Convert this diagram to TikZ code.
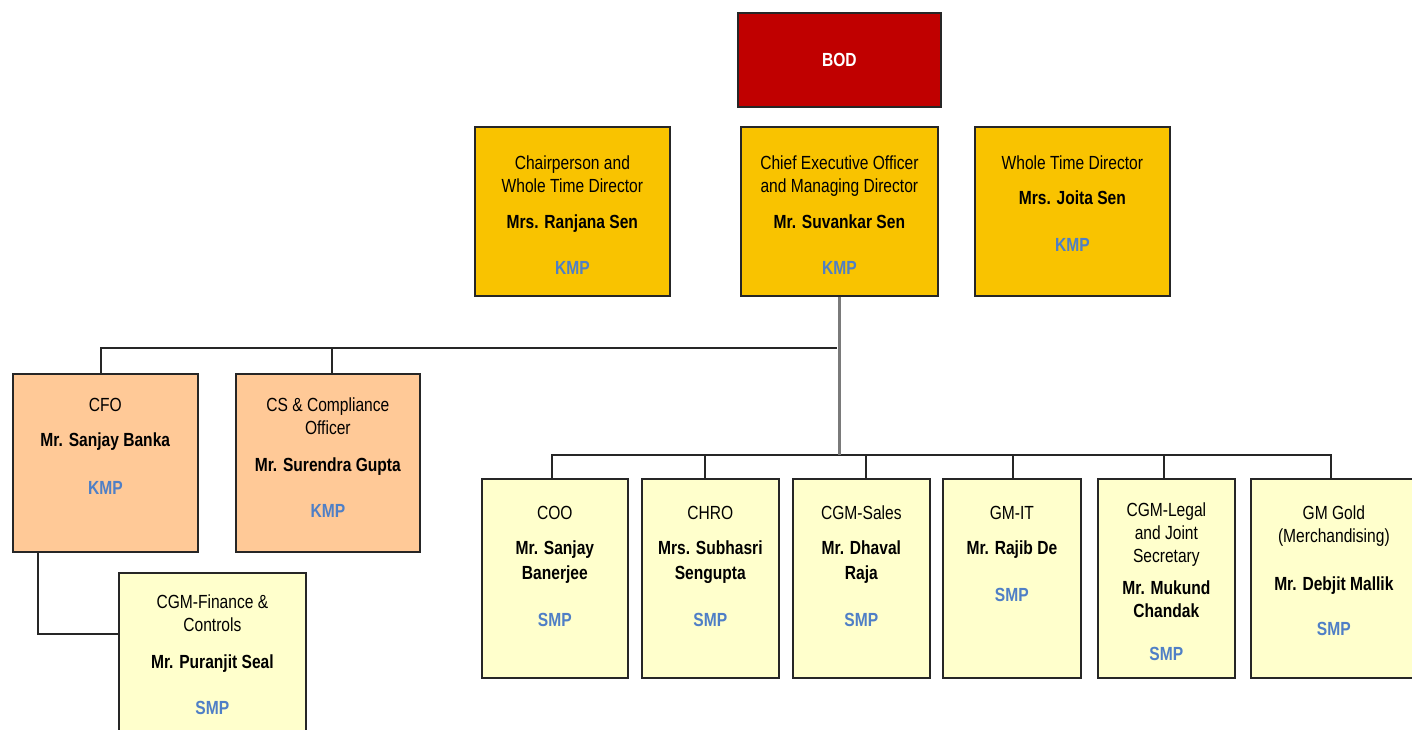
\documentclass[tikz,border=0pt]{standalone}
\usepackage{fontspec}
\setmainfont{Liberation Sans}[FakeStretch=0.82]
\definecolor{bodred}{HTML}{C00000}
\definecolor{gold}{HTML}{F9C300}
\definecolor{peach}{HTML}{FFC997}
\definecolor{lemon}{HTML}{FFFFCC}
\definecolor{kmpblue}{HTML}{4F7FC6}
\definecolor{edge}{HTML}{262626}
\definecolor{trunk}{HTML}{7A7A7A}
\newcommand\chartfont{\fontsize{19}{23}\selectfont}
\newcommand\tag[1]{\textcolor{kmpblue}{\textbf{#1}}}
\begin{document}
\begin{tikzpicture}[x=1pt,y=-1pt,
  box/.style={draw=edge, line width=1.7pt, inner sep=0pt, anchor=north west, font=\chartfont},
  txt/.style={anchor=north, align=center, inner sep=0pt, font=\chartfont},
  conn/.style={draw=edge, line width=1.5pt}]
\useasboundingbox (0,0) rectangle (1412,730);
\clip (0,0) rectangle (1412,730);
% connectors (drawn first, boxes on top)
\coordinate (busA) at (837,348);
\coordinate (busB) at (838,455);
\coordinate (finj) at (38,634);
% boxes
\node[box,fill=bodred,text=white,minimum width=203pt,minimum height=94pt] (bod) at (737,12) {\textbf{BOD}};
\node[box,fill=gold,minimum width=195pt,minimum height=169pt] (chair) at (474,126) {};
\node[box,fill=gold,minimum width=197pt,minimum height=169pt] (ceo) at (740,126) {};
\node[box,fill=gold,minimum width=195pt,minimum height=169pt] (wtd) at (974,126) {};
\node[box,fill=peach,minimum width=185pt,minimum height=178pt] (cfo) at (12,373) {};
\node[box,fill=peach,minimum width=184pt,minimum height=178pt] (cs) at (235,373) {};
\node[box,fill=lemon,minimum width=187pt,minimum height=200pt] (cgmf) at (118,572) {};
\node[box,fill=lemon,minimum width=146pt,minimum height=199pt] (coo) at (481,478) {};
\node[box,fill=lemon,minimum width=137pt,minimum height=199pt] (chro) at (641,478) {};
\node[box,fill=lemon,minimum width=137pt,minimum height=199pt] (sales) at (792,478) {};
\node[box,fill=lemon,minimum width=138pt,minimum height=199pt] (gmit) at (942,478) {};
\node[box,fill=lemon,minimum width=137pt,minimum height=199pt] (legal) at (1097,478) {};
\node[box,fill=lemon,minimum width=166pt,minimum height=199pt] (gold) at (1250,478) {};
% texts
\node[txt] (chair-t) at ([yshift=-30pt]chair.north) {Chairperson and\\Whole Time Director\\[13pt]\textbf{Mrs. Ranjana Sen}\\[23pt]\tag{KMP}};
\node[txt] (ceo-t) at ([yshift=-30pt]ceo.north) {Chief Executive Officer\\and Managing Director\\[13pt]\textbf{Mr. Suvankar Sen}\\[23pt]\tag{KMP}};
\node[txt] (wtd-t) at ([yshift=-30pt]wtd.north) {Whole Time Director\\[12pt]\textbf{Mrs. Joita Sen}\\[24pt]\tag{KMP}};
\node[txt] (cfo-t) at ([yshift=-25pt]cfo.north) {CFO\\[12pt]\textbf{Mr. Sanjay Banka}\\[25pt]\tag{KMP}};
\node[txt] (cs-t) at ([yshift=-25pt]cs.north) {CS \& Compliance\\Officer\\[14pt]\textbf{Mr. Surendra Gupta}\\[23pt]\tag{KMP}};
\node[txt] (cgmf-t) at ([yshift=-23pt]cgmf.north) {CGM-Finance \&\\Controls\\[14pt]\textbf{Mr. Puranjit Seal}\\[23pt]\tag{SMP}};
\node[txt] (coo-t) at ([yshift=-28pt]coo.north) {COO\\[12pt]\textbf{Mr. Sanjay}\\[2pt]\textbf{Banerjee}\\[24pt]\tag{SMP}};
\node[txt] (chro-t) at ([yshift=-28pt]chro.north) {CHRO\\[12pt]\textbf{Mrs. Subhasri}\\[2pt]\textbf{Sengupta}\\[24pt]\tag{SMP}};
\node[txt] (sales-t) at ([yshift=-28pt]sales.north) {CGM-Sales\\[12pt]\textbf{Mr. Dhaval}\\[2pt]\textbf{Raja}\\[24pt]\tag{SMP}};
\node[txt] (gmit-t) at ([yshift=-28pt]gmit.north) {GM-IT\\[12pt]\textbf{Mr. Rajib De}\\[24pt]\tag{SMP}};
\node[txt] (legal-t) at ([yshift=-25pt]legal.north) {CGM-Legal\\and Joint\\Secretary\\[9pt]\textbf{Mr. Mukund}\\\textbf{Chandak}\\[20pt]\tag{SMP}};
\node[txt] (gold-t) at ([yshift=-28pt]gold.north) {GM Gold\\(Merchandising)\\[25pt]\textbf{Mr. Debjit Mallik}\\[22pt]\tag{SMP}};
% connectors
\draw[conn] ([xshift=-4.5pt]cfo.north) |- (busA);
\draw[conn] ([xshift=4pt]cs.north) -- ([xshift=4pt]cs.north |- busA);
\draw[conn] ([xshift=-3pt]coo.north) |- (busB) -| ([xshift=-3pt]gold.north);
\draw[conn] ([xshift=-5.5pt]chro.north) -- ([xshift=-5.5pt]chro.north |- busB);
\draw[conn] ([xshift=4.5pt]sales.north) -- ([xshift=4.5pt]sales.north |- busB);
\draw[conn] ([xshift=1pt]gmit.north) -- ([xshift=1pt]gmit.north |- busB);
\draw[conn] ([xshift=-2.5pt]legal.north) -- ([xshift=-2.5pt]legal.north |- busB);
\draw[conn] (cfo.south -| finj) -- (finj) -- (finj -| cgmf.west);
\draw[conn,draw=trunk,line width=2.6pt] (ceo.south) -- (ceo.south |- busB);
\end{tikzpicture}
\end{document}
